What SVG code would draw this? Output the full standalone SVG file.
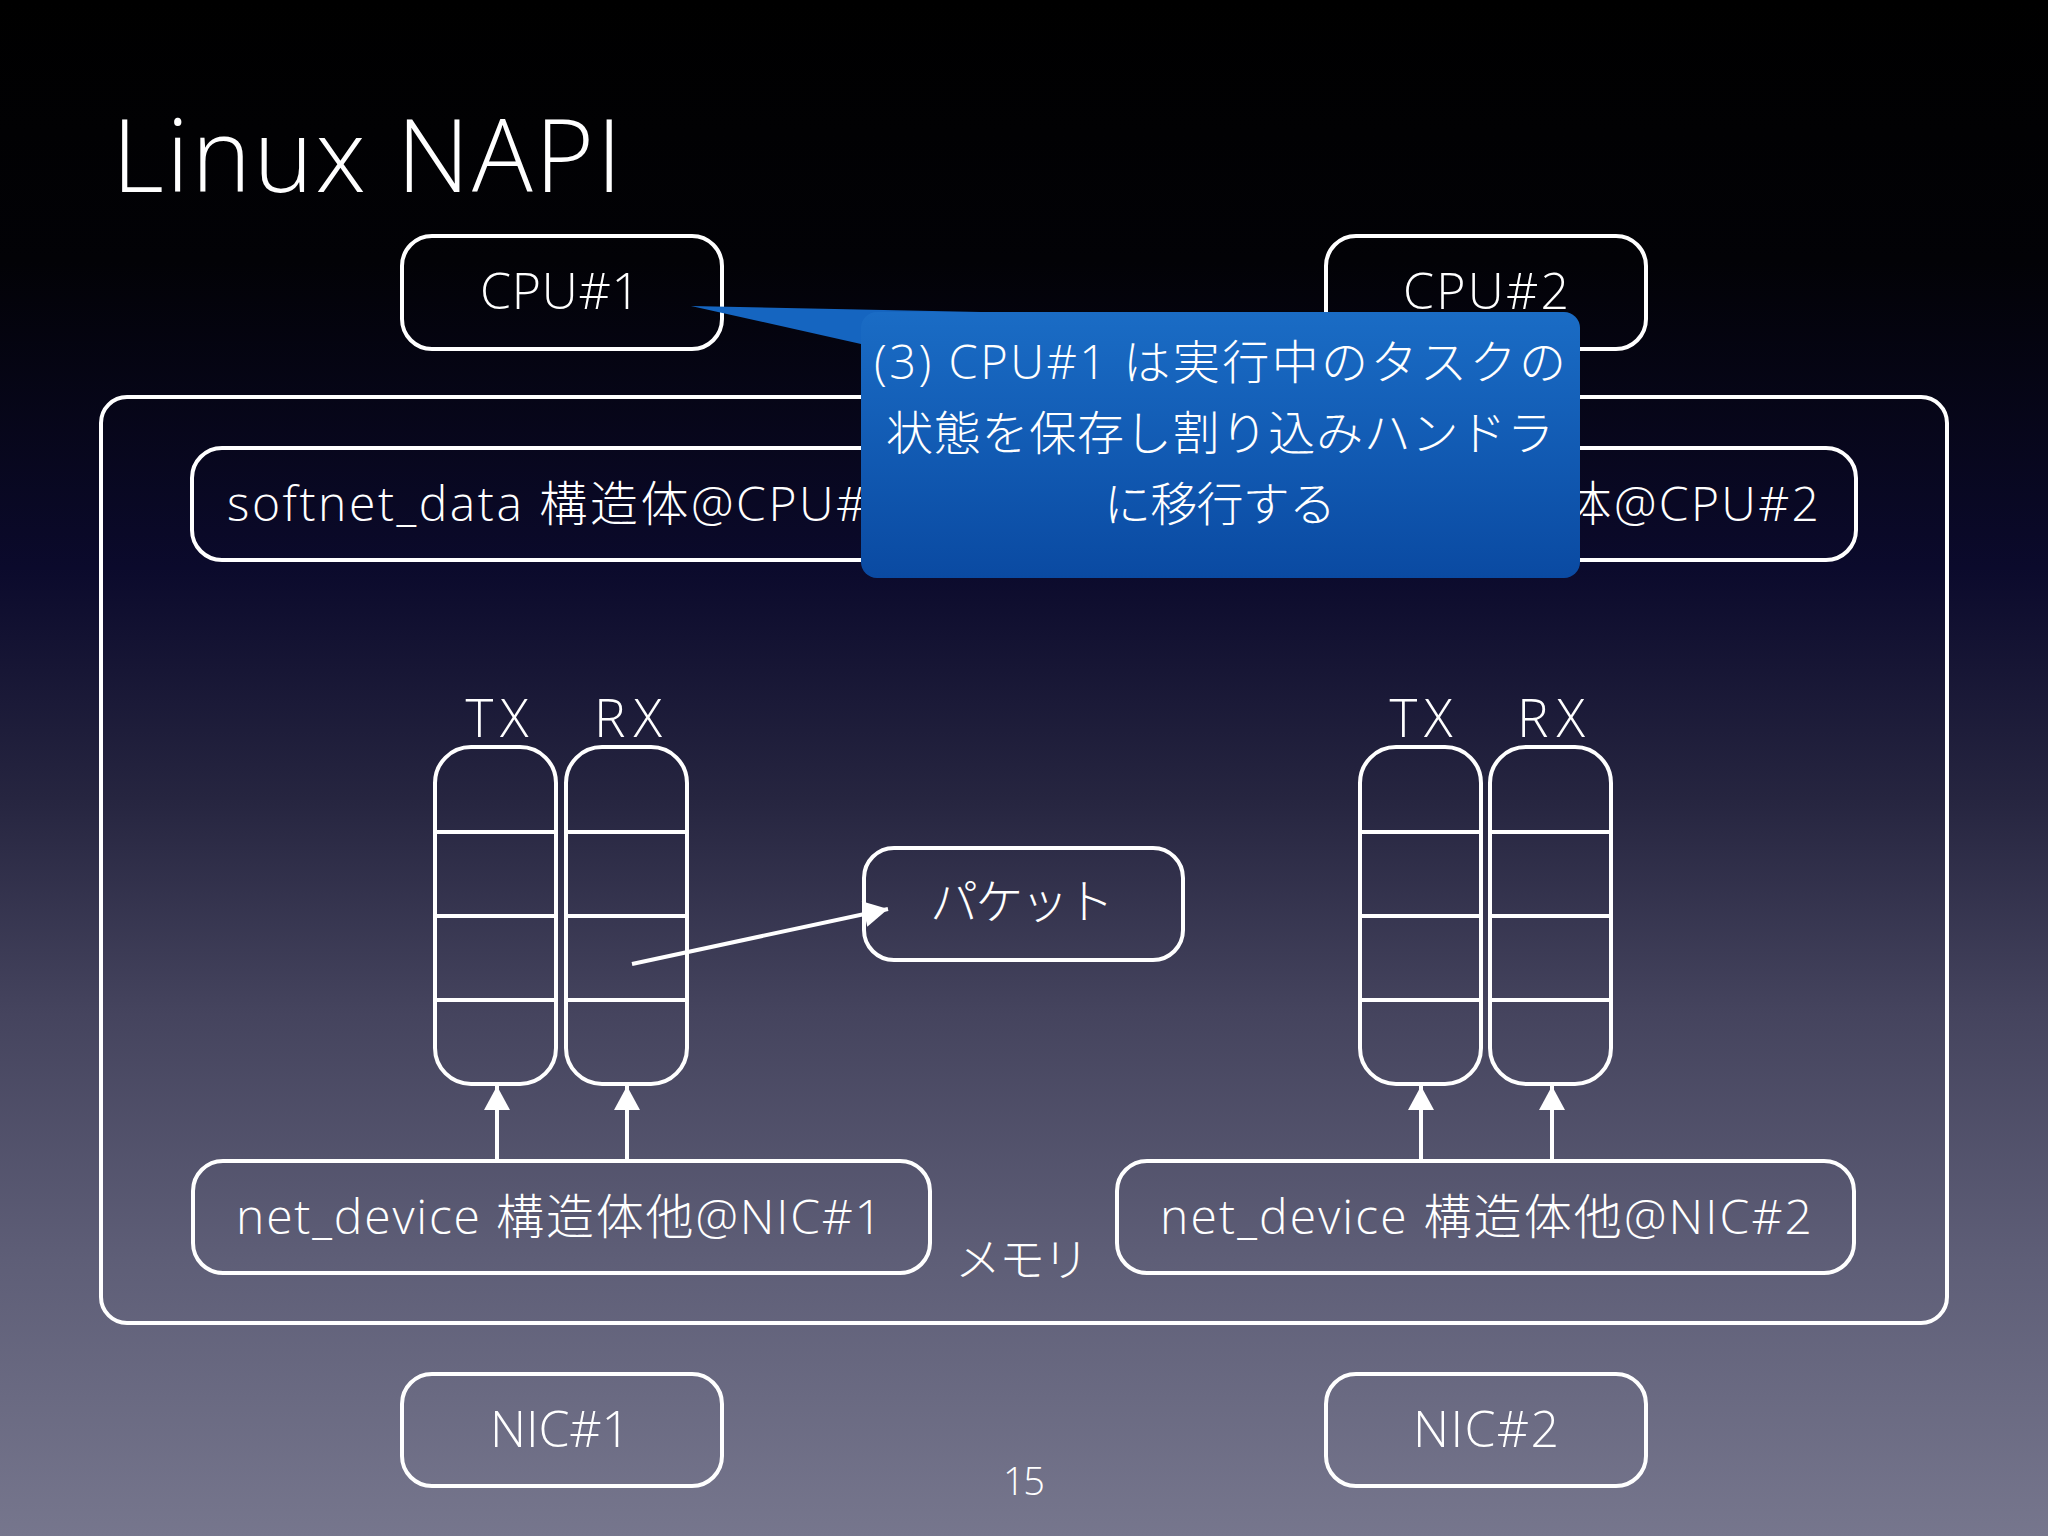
<svg xmlns="http://www.w3.org/2000/svg" width="2048" height="1536" viewBox="0 0 2048 1536">
<defs>
<linearGradient id="bg" x1="0" y1="0" x2="0" y2="1">
<stop offset="0" stop-color="#000000"/>
<stop offset="0.17" stop-color="#020206"/>
<stop offset="0.37" stop-color="#0b0a2c"/>
<stop offset="0.52" stop-color="#262540"/>
<stop offset="0.66" stop-color="#45445e"/>
<stop offset="0.82" stop-color="#5e5e77"/>
<stop offset="1" stop-color="#76768d"/>
</linearGradient>
<linearGradient id="callout" x1="0" y1="0" x2="0" y2="1">
<stop offset="0" stop-color="#1a6cc5"/>
<stop offset="1" stop-color="#0a4aa2"/>
</linearGradient>
<marker id="ah" markerUnits="userSpaceOnUse" markerWidth="28" markerHeight="28" viewBox="0 0 28 28" refX="26" refY="14" orient="auto">
<path d="M2,1 L26,14 L2,27 z" fill="#ffffff"/>
</marker>
</defs>
<style>
.box{fill:none;stroke:#ffffff;stroke-width:4}
.t{fill:#ffffff;font-family:"Open Sans","Noto Sans CJK JP",sans-serif;font-weight:300;text-anchor:middle}
.conn{stroke:#ffffff;stroke-width:4;fill:none;marker-end:url(#ah)}
.div{stroke:#ffffff;stroke-width:4}
</style>
<rect x="0" y="0" width="2048" height="1536" fill="url(#bg)"/>

<text class="t" x="112" y="192" font-size="101" textLength="510" lengthAdjust="spacing" style="text-anchor:start">Linux NAPI</text>

<g id="memory">
<rect class="box" x="101" y="397" width="1846" height="926" rx="26"/>
<text class="t" x="1022" y="1276" font-size="46" textLength="134" lengthAdjust="spacing">メモリ</text>
</g>

<g id="cpu1">
<rect class="box" x="402" y="236" width="320" height="113" rx="30"/>
<text class="t" x="560" y="309" font-size="50" textLength="160" lengthAdjust="spacing">CPU#1</text>
</g>
<g id="cpu2">
<rect class="box" x="1326" y="236" width="320" height="113" rx="30"/>
<text class="t" x="1486" y="309" font-size="50" textLength="166" lengthAdjust="spacing">CPU#2</text>
</g>

<g id="softnet1">
<rect class="box" x="192" y="448" width="739" height="112" rx="30"/>
<text class="t" x="562" y="521" font-size="48" textLength="670" lengthAdjust="spacing">softnet_data 構造体@CPU#1</text>
</g>
<g id="softnet2">
<rect class="box" x="1117" y="448" width="739" height="112" rx="30"/>
<text class="t" x="1486" y="521" font-size="48" textLength="666" lengthAdjust="spacing">softnet_data 構造体@CPU#2</text>
</g>

<g id="queue1">
<text class="t" x="497" y="737" font-size="53" textLength="63" lengthAdjust="spacing">TX</text>
<text class="t" x="628" y="737" font-size="53" textLength="68" lengthAdjust="spacing">RX</text>
<rect class="box" x="435" y="747" width="121" height="337" rx="36"/>
<rect class="box" x="566" y="747" width="121" height="337" rx="36"/>
<line class="div" x1="435" y1="832" x2="556" y2="832"/>
<line class="div" x1="435" y1="916" x2="556" y2="916"/>
<line class="div" x1="435" y1="1000" x2="556" y2="1000"/>
<line class="div" x1="566" y1="832" x2="687" y2="832"/>
<line class="div" x1="566" y1="916" x2="687" y2="916"/>
<line class="div" x1="566" y1="1000" x2="687" y2="1000"/>
</g>

<g id="queue2">
<text class="t" x="1421" y="737" font-size="53" textLength="63" lengthAdjust="spacing">TX</text>
<text class="t" x="1551" y="737" font-size="53" textLength="68" lengthAdjust="spacing">RX</text>
<rect class="box" x="1360" y="747" width="121" height="337" rx="36"/>
<rect class="box" x="1490" y="747" width="121" height="337" rx="36"/>
<line class="div" x1="1360" y1="832" x2="1481" y2="832"/>
<line class="div" x1="1360" y1="916" x2="1481" y2="916"/>
<line class="div" x1="1360" y1="1000" x2="1481" y2="1000"/>
<line class="div" x1="1490" y1="832" x2="1611" y2="832"/>
<line class="div" x1="1490" y1="916" x2="1611" y2="916"/>
<line class="div" x1="1490" y1="1000" x2="1611" y2="1000"/>
</g>

<g id="packet">
<rect class="box" x="864" y="848" width="319" height="112" rx="30"/>
<text class="t" x="1022" y="919" font-size="48" textLength="184" lengthAdjust="spacing">パケット</text>
</g>

<g id="netdev1">
<rect class="box" x="193" y="1161" width="737" height="112" rx="30"/>
<text class="t" x="559" y="1234" font-size="48" textLength="646" lengthAdjust="spacing">net_device 構造体他@NIC#1</text>
</g>
<g id="netdev2">
<rect class="box" x="1117" y="1161" width="737" height="112" rx="30"/>
<text class="t" x="1486" y="1234" font-size="48" textLength="652" lengthAdjust="spacing">net_device 構造体他@NIC#2</text>
</g>

<g id="nic1">
<rect class="box" x="402" y="1374" width="320" height="112" rx="30"/>
<text class="t" x="560" y="1447" font-size="50" textLength="140" lengthAdjust="spacing">NIC#1</text>
</g>
<g id="nic2">
<rect class="box" x="1326" y="1374" width="320" height="112" rx="30"/>
<text class="t" x="1486" y="1447" font-size="50" textLength="146" lengthAdjust="spacing">NIC#2</text>
</g>

<g id="connectors">
<line class="conn" x1="497" y1="1161" x2="497" y2="1086"/>
<line class="conn" x1="627" y1="1161" x2="627" y2="1086"/>
<line class="conn" x1="1421" y1="1161" x2="1421" y2="1086"/>
<line class="conn" x1="1552" y1="1161" x2="1552" y2="1086"/>
<line class="conn" x1="632" y1="964" x2="888" y2="909"/>
</g>

<g id="callout">
<path d="M691,306 L1030,313 L861,344 z" fill="#1565c0"/>
<rect x="861" y="312" width="719" height="266" rx="16" fill="url(#callout)"/>
<text class="t" x="1220" y="379" font-size="47" textLength="692" lengthAdjust="spacing">(3) CPU#1 は実行中のタスクの</text>
<text class="t" x="1220" y="450" font-size="47" textLength="668" lengthAdjust="spacing">状態を保存し割り込みハンドラ</text>
<text class="t" x="1220" y="521" font-size="47" textLength="232" lengthAdjust="spacing">に移行する</text>
</g>

<text class="t" x="1024" y="1495" font-size="38" textLength="42" lengthAdjust="spacing">15</text>
</svg>
